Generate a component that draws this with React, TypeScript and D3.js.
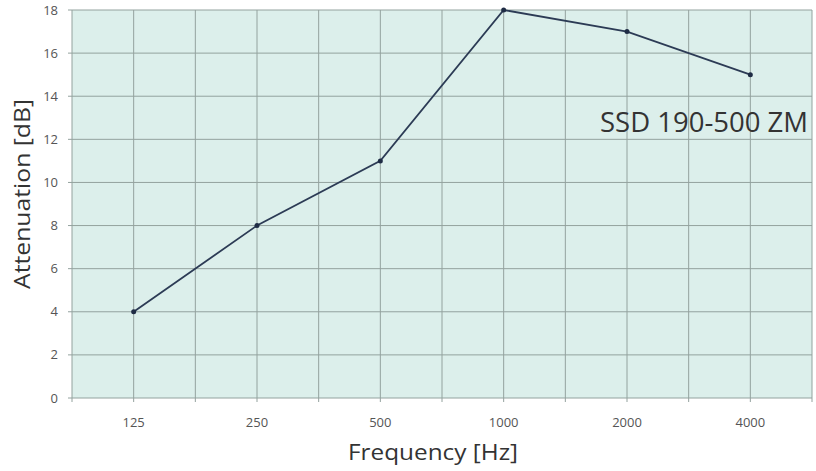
import React from "react";
import * as d3 from "d3";

const categories = ["125", "250", "500", "1000", "2000", "4000"];
const attenuation = [4, 8, 11, 18, 17, 15];
const yTicks = [0, 2, 4, 6, 8, 10, 12, 14, 16, 18];

const W = 816;
const H = 471;
const margin = { left: 72, right: 4, top: 10, bottom: 73 };

export default function App() {
  const x = d3
    .scaleBand<string>()
    .domain(categories)
    .range([margin.left, W - margin.right])
    .padding(0);
  const y = d3.scaleLinear().domain([0, 18]).range([H - margin.bottom, margin.top]);
  const bw = x.bandwidth();
  const cx = (c: string) => (x(c) as number) + bw / 2;

  const vLines: number[] = [];
  categories.forEach((c) => {
    vLines.push(x(c) as number);
    vLines.push(cx(c));
  });
  vLines.push(W - margin.right);

  const line = d3
    .line<number>()
    .x((_, i) => cx(categories[i]))
    .y((d) => y(d));

  const gridColor = "#93a29e";
  return (
    <svg width={W} height={H} style={{ position: "absolute", left: 0, top: 0, background: "#fff" }}>
      <rect
        x={margin.left}
        y={margin.top}
        width={W - margin.left - margin.right}
        height={H - margin.top - margin.bottom}
        fill="#dcefeb"
      />
      {yTicks.map((t) => (
        <line key={"h" + t} x1={margin.left - 4} x2={W - margin.right} y1={y(t)} y2={y(t)} stroke={gridColor} strokeWidth={1} />
      ))}
      {vLines.map((v, i) => (
        <line key={"v" + i} x1={v} x2={v} y1={margin.top} y2={y(0) + 4} stroke={gridColor} strokeWidth={1} />
      ))}
      {yTicks.map((t) => (
        <text
          key={"yl" + t}
          x={58}
          y={y(t)}
          dy="0.35em"
          textAnchor="end"
          fontFamily="Open Sans, sans-serif"
          fontSize={13}
          fill="#555"
        >
          {t}
        </text>
      ))}
      {categories.map((c) => (
        <text
          key={"xl" + c}
          x={cx(c)}
          y={422}
          dy="0.35em"
          textAnchor="middle"
          fontFamily="Open Sans, sans-serif"
          fontSize={13}
          fill="#555"
        >
          {c}
        </text>
      ))}
      <path d={line(attenuation) || ""} fill="none" stroke="#2c3b55" strokeWidth={1.8} />
      {attenuation.map((v, i) => (
        <circle key={"p" + i} cx={cx(categories[i])} cy={y(v)} r={2.5} fill="#1f2c45" />
      ))}
      <text
        x={433}
        y={453}
        dy="0.35em"
        textAnchor="middle"
        fontFamily="Open Sans, sans-serif"
        fontSize={21}
        fill="#333"
        textLength={170}
        lengthAdjust="spacingAndGlyphs"
      >
        Frequency [Hz]
      </text>
      <text
        transform={`translate(23,194) rotate(-90)`}
        dy="0.35em"
        textAnchor="middle"
        fontFamily="Open Sans, sans-serif"
        fontSize={21}
        fill="#333"
        textLength={190}
        lengthAdjust="spacingAndGlyphs"
      >
        Attenuation [dB]
      </text>
      <text
        x={600}
        y={132}
        fontFamily="Open Sans, sans-serif"
        fontSize={27}
        fill="#333"
        textLength={208}
        lengthAdjust="spacingAndGlyphs"
      >
        SSD 190-500 ZM
      </text>
    </svg>
  );
}
